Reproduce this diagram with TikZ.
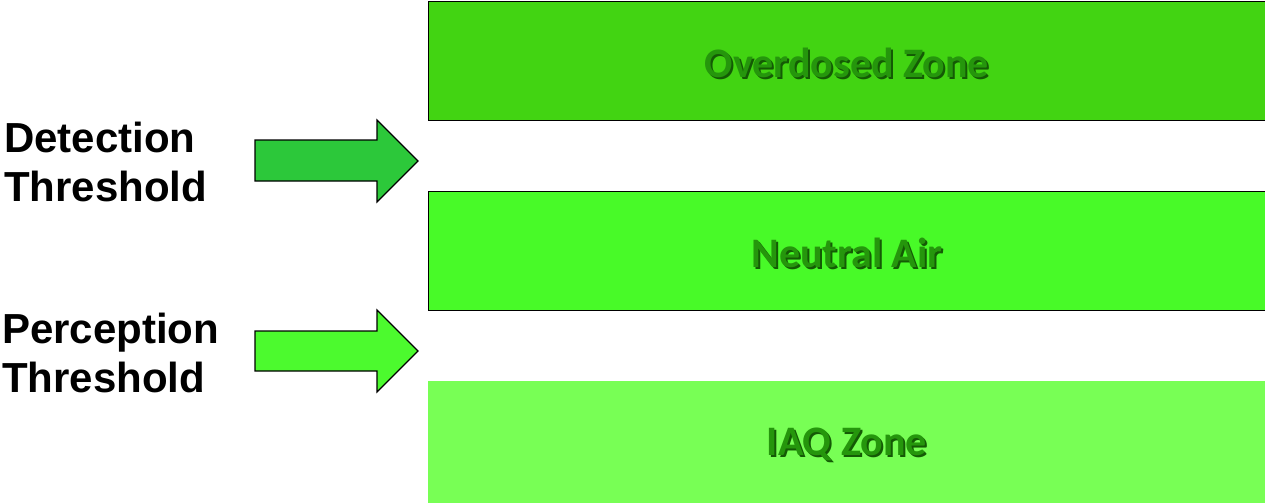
\documentclass[tikz,border=0pt]{standalone}
\usepackage{fontspec}
\setmainfont{Liberation Sans}
\newfontfamily\calfont{Carlito}
\definecolor{zoneA}{HTML}{42D412}
\definecolor{zoneB}{HTML}{48FA28}
\definecolor{zoneC}{HTML}{78FF55}
\definecolor{arrA}{HTML}{2CC83A}
\definecolor{arrB}{HTML}{4CFA2E}
\definecolor{labtxt}{HTML}{25960C}
\definecolor{labshadow}{HTML}{145A05}
\begin{document}
\begin{tikzpicture}[x=1pt,y=-1pt,
  zone/.style={draw=black,line width=0.8pt,anchor=north west,inner sep=0pt},
  zonelabel/.style={font=\calfont\bfseries\fontsize{42}{48}\selectfont,text=labtxt},
  shadowlabel/.style={font=\calfont\bfseries\fontsize{42}{48}\selectfont,text=labshadow},
  sidelabel/.style={font=\bfseries\fontsize{42}{49}\selectfont,align=left,anchor=west,inner sep=0pt},
  bigarrow/.style={draw=black,line width=1.2pt,line join=miter}]
\useasboundingbox (0,0) rectangle (1265,503);
% zones
\node[zone,fill=zoneA,minimum width=837pt,minimum height=119pt] (over) at (428,1) {};
\node[zone,fill=zoneB,minimum width=837pt,minimum height=119pt] (neutral) at (428,191) {};
\node[zone,draw=none,fill=zoneC,minimum width=837pt,minimum height=122pt] (iaq) at (428,381) {};
% labels
\foreach \n/\t in {over/Overdosed Zone,neutral/Neutral Air,iaq/IAQ Zone}{
  \node[shadowlabel] at ([xshift=2pt,yshift=-4pt]\n.center) {\t};
  \node[zonelabel] (\n-lab) at ([yshift=-2pt]\n.center) {\t};
}
% arrows
\draw[bigarrow,fill=arrA] (255,140) -- (377,140) -- (377,120) -- (418,161) -- (377,202) -- (377,181) -- (255,181) -- cycle;
\draw[bigarrow,fill=arrB] (255,331) -- (377,331) -- (377,310) -- (418,351) -- (377,392) -- (377,371) -- (255,371) -- cycle;
% side labels
\node[sidelabel] (det) at (4,162) {Detection\\Threshold};
\node[sidelabel] (per) at (2,353) {Perception\\Threshold};
\end{tikzpicture}
\end{document}
